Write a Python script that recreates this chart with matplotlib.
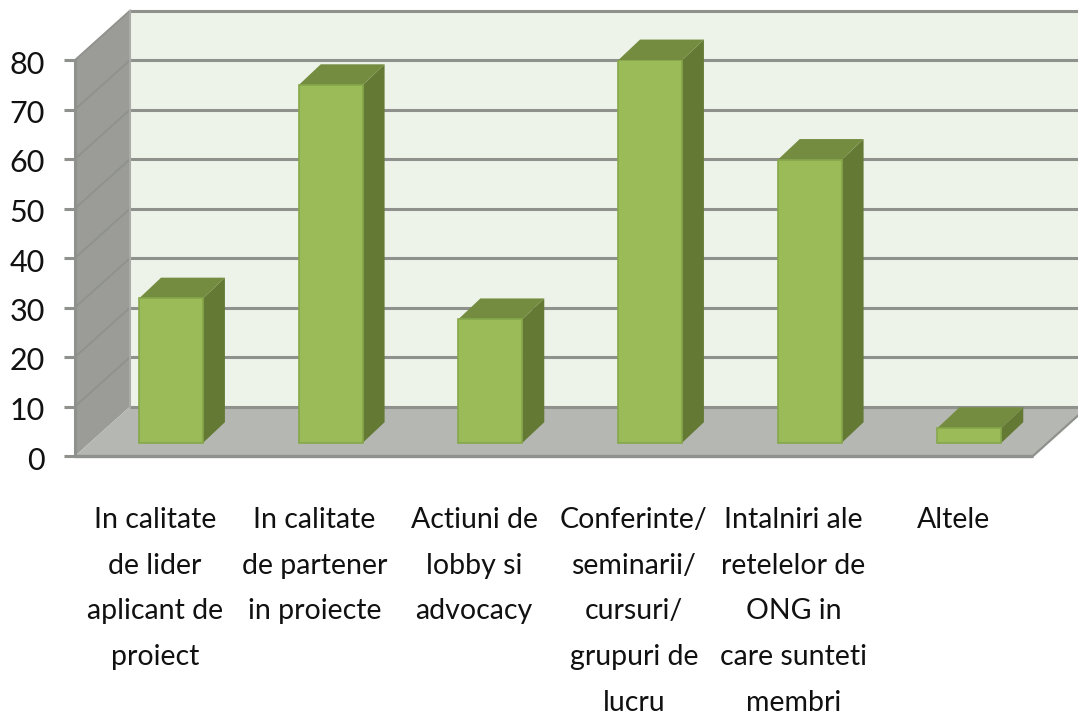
import numpy as np
import matplotlib
matplotlib.use("Agg")
import matplotlib.pyplot as plt
from matplotlib.patches import Polygon
from matplotlib.transforms import blended_transform_factory, ScaledTranslation

categories = [
    "In calitate\nde lider\naplicant de\nproiect",
    "In calitate\nde partener\nin proiecte",
    "Actiuni de\nlobby si\nadvocacy",
    "Conferinte/\nseminarii/\ncursuri/\ngrupuri de\nlucru",
    "Intalniri ale\nretelelor de\nONG in\ncare sunteti\nmembri",
    "Altele",
]
values = [29.2, 72.3, 25, 77.3, 57.2, 3]
y_ticks = [0, 10, 20, 30, 40, 50, 60, 70, 80]

# fake 3d depth, in axis units
WALL_DX = 0.345
WALL_DY = 10
BAR_SHIFT_X = 0.101
BAR_SHIFT_Y = 2.63
BAR_DX = 0.138
BAR_DY = 4.2
BAR_W = 0.40

GRID = "#8f918d"

plt.rcParams["font.family"] = ["Lato", "DejaVu Sans"]

W, H = 1078, 717
fig = plt.figure(figsize=(W / 100, H / 100), dpi=100)
ax = fig.add_axes([75 / W, (H - 456) / H, 958 / W, 396 / H])
n = len(categories)
ax.set_xlim(0, n)
ax.set_ylim(0, 80)
for s in ax.spines.values():
    s.set_visible(False)
ax.patch.set_visible(False)

right = n + WALL_DX


def poly(pts, color, z, edge="none", lw=0):
    ax.add_patch(Polygon(pts, closed=True, facecolor=color, edgecolor=edge,
                         linewidth=lw, zorder=z, clip_on=False))


# walls and floor
poly([(WALL_DX, WALL_DY), (right, WALL_DY), (right, 80 + WALL_DY), (WALL_DX, 80 + WALL_DY)], "#eef3ea", 1)
poly([(0, 0), (WALL_DX, WALL_DY), (WALL_DX, 80 + WALL_DY), (0, 80)], "#9b9c98", 1)
poly([(0, 0), (WALL_DX, WALL_DY), (right, WALL_DY), (n, 0)], "#b5b7b2", 1)

# gridlines on the back and side walls
for v in y_ticks:
    ax.plot([WALL_DX, right], [v + WALL_DY, v + WALL_DY], color=GRID, lw=2.2, zorder=2,
            clip_on=False, solid_capstyle="butt")
    if v > 0:
        ax.plot([0, WALL_DX], [v, v + WALL_DY], color=GRID, lw=1.3, zorder=2, clip_on=False)
ax.plot([WALL_DX, WALL_DX], [WALL_DY, 80 + WALL_DY], color="#a9aba7", lw=1.5, zorder=2, clip_on=False)
ax.plot([0, n], [0, 0], color=GRID, lw=2.4, zorder=2, clip_on=False, solid_capstyle="butt")
ax.plot([n, right], [0, WALL_DY], color=GRID, lw=1.6, zorder=2, clip_on=False)
ax.plot([0, 0], [0, 80], color=GRID, lw=2.2, zorder=2, clip_on=False)

# bars
x = np.arange(n) + 0.5 + BAR_SHIFT_X
ax.bar(x, values, BAR_W, bottom=BAR_SHIFT_Y, color="#9bbb59", edgecolor="#86a74a", linewidth=1.2, zorder=4)
for xi, v in zip(x, values):
    l, r = xi - BAR_W / 2, xi + BAR_W / 2
    b, t = BAR_SHIFT_Y, BAR_SHIFT_Y + v
    poly([(r, b), (r + BAR_DX, b + BAR_DY), (r + BAR_DX, t + BAR_DY), (r, t)], "#647a34", 3)
    poly([(l, t), (l + BAR_DX, t + BAR_DY), (r + BAR_DX, t + BAR_DY), (r, t)], "#748c3f", 3)

# axis ticks and labels
ax.set_yticks(y_ticks)
ax.tick_params(axis="y", length=8, width=2.2, color=GRID, pad=13.5, labelsize=22, labelcolor="#111111")
ax.set_xticks([])
shift = ScaledTranslation(0, -2 / 100, fig.dpi_scale_trans)
for lbl in ax.get_yticklabels():
    lbl.set_transform(lbl.get_transform() + shift)

trans = blended_transform_factory(ax.transData, fig.transFigure)
for i, label in enumerate(categories):
    ax.text(i + 0.5, 1 - 507 / H, label, transform=trans, ha="center", va="top",
            fontsize=20.5, linespacing=1.94, color="#111111")

fig.savefig("out.png", dpi=100)
